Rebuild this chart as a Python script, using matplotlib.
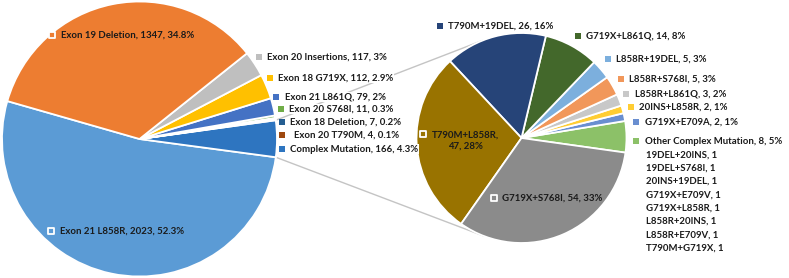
import numpy as np
import matplotlib
matplotlib.use("Agg")
import matplotlib.pyplot as plt

# primary pie (counter-clockwise from the left edge)
left_labels = ["Exon 21 L858R", "Complex Mutation", "Exon 20 T790M", "Exon 18 Deletion",
               "Exon 20 S768I", "Exon 21 L861Q", "Exon 18 G719X", "Exon 20 Insertions",
               "Exon 19 Deletion"]
left_counts = [2023, 166, 4, 7, 11, 79, 112, 117, 1347]
left_colors = ["#5B9BD5", "#2E75C0", "#9E480E", "#255E91", "#70AD47", "#4472C4",
               "#FFC000", "#BFBFBF", "#ED7D31"]

# secondary pie: breakdown of "Complex Mutation"
right_labels = ["Other Complex Mutation", "G719X+E709A", "20INS+L858R", "L858R+L861Q",
                "L858R+S768I", "L858R+19DEL", "G719X+L861Q", "T790M+19DEL",
                "T790M+L858R", "G719X+S768I"]
right_counts = [8, 2, 2, 3, 5, 5, 14, 26, 47, 54]
right_colors = ["#8CC168", "#698ED0", "#FFCD33", "#C8C8C8", "#F1975A", "#7CAFDD",
                "#43682B", "#264478", "#997300", "#8B8B8B"]

other_labels = ["19DEL+20INS", "19DEL+S768I", "20INS+19DEL", "G719X+E709V",
                "G719X+L858R", "L858R+20INS", "L858R+E709V", "T790M+G719X"]
other_counts = [1, 1, 1, 1, 1, 1, 1, 1]

W, H = 789, 278
TXT = "#1a1a1a"
plt.rcParams["font.family"] = ["Lato", "DejaVu Sans"]
plt.rcParams["font.weight"] = "bold"
FS = 6.9

fig = plt.figure(figsize=(W / 100, H / 100), dpi=100)
ax = fig.add_axes([0, 0, 1, 1])

lc, lr = (139.5, H - 139), 137.5
rc, rr = (521.5, H - 138), 105

wl, _ = ax.pie(left_counts, colors=left_colors, startangle=164, counterclock=True,
               center=lc, radius=lr, frame=True,
               wedgeprops=dict(edgecolor="white", linewidth=1.3))
wr, _ = ax.pie(right_counts, colors=right_colors, startangle=-8, counterclock=True,
               center=rc, radius=rr, frame=True,
               wedgeprops=dict(edgecolor="white", linewidth=1.3))
ax.set_xlim(0, W)
ax.set_ylim(0, H)
ax.set_aspect("equal")
ax.axis("off")


def pt(center, r, deg):
    a = np.deg2rad(deg)
    return center[0] + r * np.cos(a), center[1] + r * np.sin(a)


# series lines from the split slice to the secondary pie
cw = wl[left_labels.index("Complex Mutation")]
for a1, a2 in [(cw.theta2, 112), (cw.theta1, 249)]:
    p1 = pt(lc, lr, a1)
    p2 = pt(rc, rr, a2)
    ax.plot([p1[0], p2[0]], [p1[1], p2[1]], color="#C4C4C4", lw=1, zorder=0.5)

lt = sum(left_counts)
rt = sum(right_counts)


def pct1(v, t):
    s = f"{100 * v / t:.1f}"
    return (s[:-2] if s.endswith(".0") else s) + "%"


def key(x, y, color, inside=False):
    if inside:
        ax.scatter([x], [H - y], marker="s", s=24, facecolor=color, edgecolor="white",
                   linewidth=1.3, zorder=5)
    else:
        ax.scatter([x], [H - y], marker="s", s=13, facecolor=color, edgecolor="none",
                   zorder=5)


def label(x, y, s, **kw):
    ax.text(x, H - y, s, fontsize=FS, color=TXT, va="center", ha="left", zorder=6,
            fontweight="bold", **kw)


bg = dict(facecolor="white", edgecolor="none", pad=0.5)

# label layout (pixel positions from top-left): key x, text x, y
left_pos = {
    "Exon 19 Deletion": (52, 61, 35, True),
    "Exon 21 L858R": (51, 60, 231, True),
    "Exon 20 Insertions": (259, 267, 57, False),
    "Exon 18 G719X": (270, 278, 78, False),
    "Exon 21 L861Q": (276, 285, 97, False),
    "Exon 20 S768I": (281, 289, 109, False),
    "Exon 18 Deletion": (282, 290, 122, False),
    "Exon 20 T790M": (282, 294, 135, False),
    "Complex Mutation": (282, 290, 149, False),
}
for name, cnt, col in zip(left_labels, left_counts, left_colors):
    kx, tx, y, inside = left_pos[name]
    key(kx, y, col, inside)
    label(tx, y, f"{name}, {cnt}, {pct1(cnt, lt)}", bbox=None if inside else bg)

right_pos = {
    "T790M+19DEL": (440, 448, 26, False),
    "G719X+L861Q": (578, 586, 36, False),
    "L858R+19DEL": (608, 616, 59, False),
    "L858R+S768I": (621, 629, 79, False),
    "L858R+L861Q": (626, 635, 94, False),
    "20INS+L858R": (631, 639, 107, False),
    "G719X+E709A": (636, 645, 122, False),
    "Other Complex Mutation": (636, 645, 141, False),
    "G719X+S768I": (494, 502, 198, True),
}
for name, cnt, col in zip(right_labels, right_counts, right_colors):
    p = f"{round(100 * cnt / rt)}%"
    if name == "T790M+L858R":
        key(423, 134, col, True)
        ax.text(465, H - 140.5, f"{name},\n{cnt}, {p}", fontsize=FS, color=TXT,
                ha="center", va="center", multialignment="center", zorder=6,
                fontweight="bold", linespacing=1.35)
        continue
    kx, tx, y, inside = right_pos[name]
    key(kx, y, col, inside)
    label(tx, y, f"{name}, {cnt}, {p}")

for i, (name, cnt) in enumerate(zip(other_labels, other_counts)):
    label(646, 155 + i * 13.3, f"{name}, {cnt}")

fig.savefig("out.png", dpi=100)
